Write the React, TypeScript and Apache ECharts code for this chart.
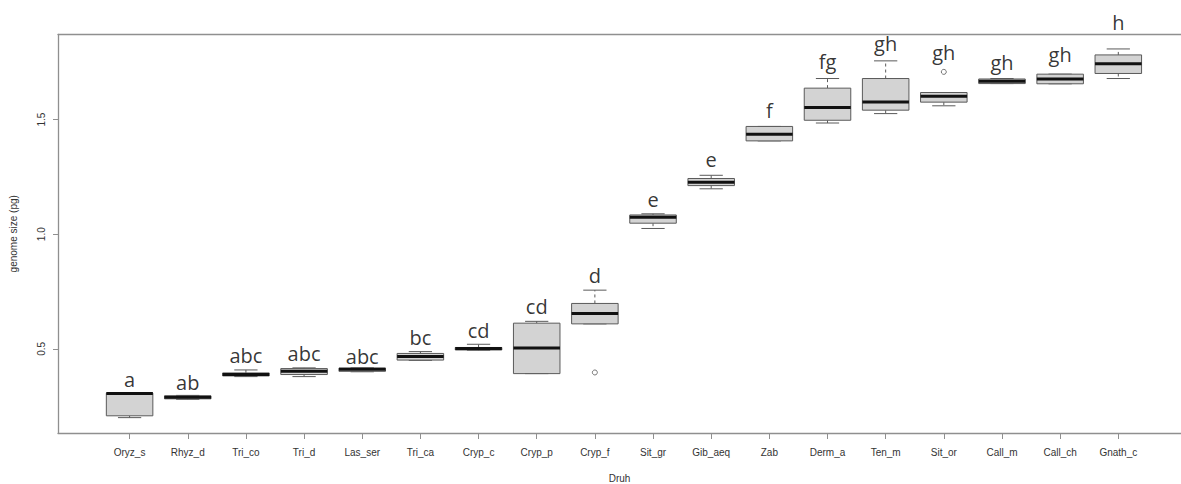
import React, { useEffect, useRef } from "react";
import * as echarts from "echarts";

const categories = [
  "Oryz_s", "Rhyz_d", "Tri_co", "Tri_d", "Las_ser", "Tri_ca", "Cryp_c", "Cryp_p", "Cryp_f",
  "Sit_gr", "Gib_aeq", "Zab", "Derm_a", "Ten_m", "Sit_or", "Call_m", "Call_ch", "Gnath_c",
];
const lowWhisker = [0.200, 0.280, 0.379, 0.379, 0.400, 0.450, 0.494, 0.392, 0.609, 1.025, 1.198, 1.407, 1.485, 1.526, 1.560, 1.657, 1.656, 1.679];
const lowerQuartile = [0.208, 0.282, 0.382, 0.388, 0.402, 0.451, 0.495, 0.392, 0.609, 1.048, 1.212, 1.407, 1.497, 1.541, 1.576, 1.657, 1.656, 1.701];
const medians = [0.305, 0.289, 0.388, 0.402, 0.411, 0.467, 0.502, 0.504, 0.654, 1.074, 1.227, 1.436, 1.553, 1.577, 1.602, 1.667, 1.677, 1.743];
const upperQuartile = [0.307, 0.295, 0.395, 0.414, 0.416, 0.480, 0.506, 0.612, 0.698, 1.084, 1.243, 1.470, 1.637, 1.679, 1.618, 1.677, 1.698, 1.782];
const highWhisker = [0.307, 0.297, 0.408, 0.417, 0.417, 0.488, 0.520, 0.620, 0.756, 1.089, 1.257, 1.470, 1.679, 1.756, 1.618, 1.679, 1.698, 1.808];
const outliers: [number, number][] = [[9, 0.397], [15, 1.708]];
const letters = ["a", "ab", "abc", "abc", "abc", "bc", "cd", "cd", "d", "e", "e", "f", "fg", "gh", "gh", "gh", "gh", "h"];
const letterY = [0.332, 0.320, 0.436, 0.447, 0.433, 0.515, 0.547, 0.650, 0.785, 1.116, 1.290, 1.506, 1.720, 1.797, 1.756, 1.713, 1.749, 1.887];
const yTicks = [0.5, 1.0, 1.5];

const FRAME = "#8f8f8f";
const BORDER = "#5a5a5a";

export default function App() {
  const ref = useRef<HTMLDivElement>(null);
  useEffect(() => {
    if (!ref.current) return;
    const chart = echarts.init(ref.current, null, { renderer: "svg" });
    const xIdx = categories.map((_, i) => i + 1);
    const boxData = categories.map((_, i) => [
      i + 1, lowWhisker[i], lowerQuartile[i], medians[i], upperQuartile[i], highWhisker[i],
    ]);
    const labelData = categories.map((_, i) => [i + 1, letterY[i], letters[i]]);
    const xCommon = {
      type: "value" as const,
      min: -0.231,
      max: 19.078,
      splitLine: { show: false },
    };
    chart.setOption({
      animation: false,
      backgroundColor: "#ffffff",
      grid: { left: 58, right: 0, top: 34.5, bottom: 51, containLabel: false, outerBoundsMode: "none" },
      xAxis: [
        {
          ...xCommon,
          position: "bottom",
          name: "Druh",
          nameLocation: "middle",
          nameGap: 40,
          nameTextStyle: { fontFamily: "Liberation Sans", fontSize: 10, color: "#333" },
          axisLine: { show: true, onZero: false, lineStyle: { color: FRAME, width: 1.3 } },
          axisTick: { show: true, length: 6, customValues: xIdx, lineStyle: { color: FRAME } },
          axisLabel: {
            customValues: xIdx,
            formatter: (v: number) => categories[Math.round(v) - 1] ?? "",
            fontFamily: "Liberation Sans",
            fontSize: 10,
            color: "#333",
            margin: 14,
          },
        },
        {
          ...xCommon,
          position: "top",
          axisLine: { show: true, onZero: false, lineStyle: { color: FRAME, width: 1.3 } },
          axisTick: { show: false },
          axisLabel: { show: false },
        },
      ],
      yAxis: {
        type: "value",
        min: 0.133,
        max: 1.871,
        name: "genome size (pg)",
        nameLocation: "middle",
        nameGap: 40,
        nameRotate: 90,
        nameTextStyle: { fontFamily: "Liberation Sans", fontSize: 10, color: "#333" },
        splitLine: { show: false },
        axisLine: { show: true, onZero: false, lineStyle: { color: FRAME, width: 1.3 } },
        axisTick: { show: true, length: 5, customValues: yTicks, lineStyle: { color: FRAME } },
        axisLabel: {
          customValues: yTicks,
          rotate: 90,
          formatter: (v: number) => v.toFixed(1),
          fontFamily: "Liberation Sans",
          fontSize: 10,
          color: "#333",
          margin: 12,
        },
      },
      series: [
        {
          type: "custom",
          xAxisIndex: 0,
          data: boxData,
          encode: { x: 0, y: [1, 2, 3, 4, 5] },
          renderItem: (params: any, api: any) => {
            const x = api.value(0);
            const lo = api.coord([x, api.value(1)]);
            const q1 = api.coord([x, api.value(2)]);
            const md = api.coord([x, api.value(3)]);
            const q3 = api.coord([x, api.value(4)]);
            const hi = api.coord([x, api.value(5)]);
            const w = api.size([0.8, 0])[0];
            const cx = lo[0];
            const cap = w / 4;
            const whisk = { stroke: BORDER, lineWidth: 1, lineDash: [3, 3], fill: null };
            const solid = { stroke: BORDER, lineWidth: 1, fill: null };
            return {
              type: "group",
              children: [
                { type: "line", shape: { x1: cx, y1: q3[1], x2: cx, y2: hi[1] }, style: whisk },
                { type: "line", shape: { x1: cx, y1: q1[1], x2: cx, y2: lo[1] }, style: whisk },
                { type: "line", shape: { x1: cx - cap, y1: hi[1], x2: cx + cap, y2: hi[1] }, style: solid },
                { type: "line", shape: { x1: cx - cap, y1: lo[1], x2: cx + cap, y2: lo[1] }, style: solid },
                {
                  type: "rect",
                  shape: { x: cx - w / 2, y: q3[1], width: w, height: Math.max(q1[1] - q3[1], 1) },
                  style: { fill: "#d3d3d3", stroke: BORDER, lineWidth: 1 },
                },
                {
                  type: "line",
                  shape: { x1: cx - w / 2, y1: md[1], x2: cx + w / 2, y2: md[1] },
                  style: { stroke: "#111", lineWidth: 3 },
                },
              ],
            };
          },
          z: 2,
        },
        {
          type: "scatter",
          xAxisIndex: 0,
          data: outliers,
          symbol: "circle",
          symbolSize: 5,
          itemStyle: { color: "#ffffff", borderColor: "#555", borderWidth: 1 },
          z: 3,
        },
        {
          type: "scatter",
          xAxisIndex: 0,
          data: labelData,
          symbolSize: 0,
          clip: false,
          silent: true,
          itemStyle: { color: "#000" },
          label: {
            show: true,
            position: "inside",
            formatter: (p: any) => p.data[2],
            fontFamily: "Open Sans",
            fontSize: 20,
            color: "#000",
            textBorderWidth: 0,
            verticalAlign: "bottom",
            align: "center",
            offset: [0, 2],
          },
          z: 4,
        },
      ],
    });
    return () => chart.dispose();
  }, []);
  return (
    <div
      ref={ref}
      style={{ position: "fixed", left: 0, top: 0, width: 1181, height: 484, background: "#fff" }}
    />
  );
}
